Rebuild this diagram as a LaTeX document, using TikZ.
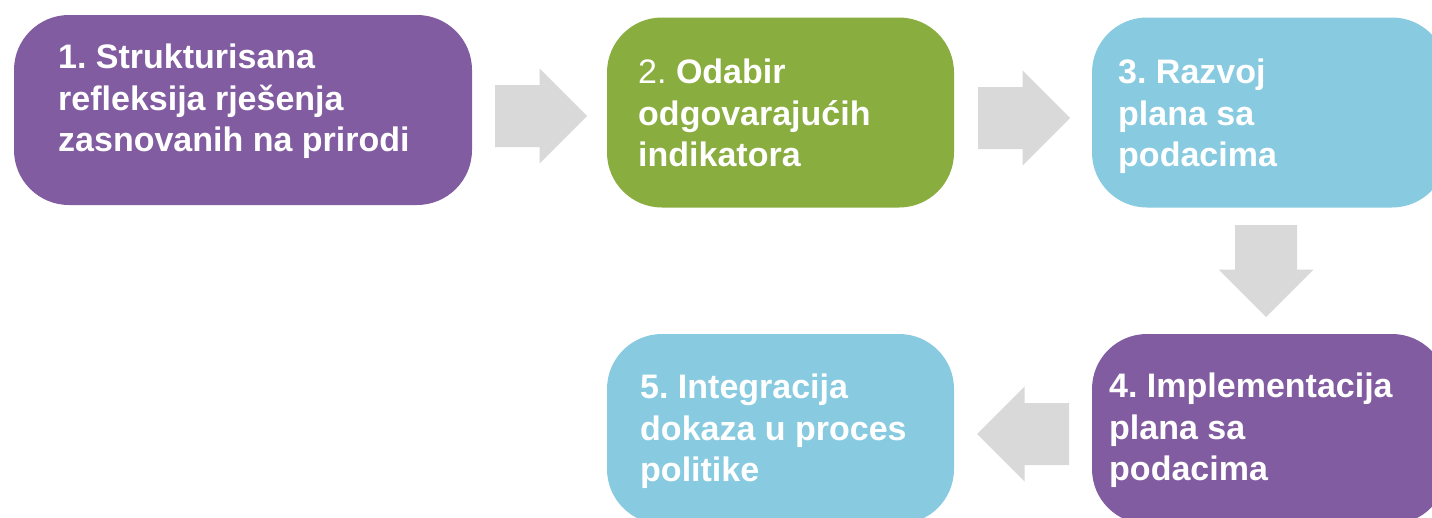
\documentclass[tikz,border=0pt]{standalone}
\usepackage{fontspec}
\setmainfont{Liberation Sans}
\definecolor{stepPurple}{HTML}{825CA0}
\definecolor{stepGreen}{HTML}{8AAD40}
\definecolor{stepBlue}{HTML}{88CBE1}
\definecolor{arrowGray}{HTML}{D9D9D9}
\frenchspacing
\tikzset{
    stepbox/.style ={
        shape=rectangle,
        rounded corners=55pt,
        draw=none,
        inner sep=0pt,
        minimum height=190pt
    },
    steptext/.style ={
        anchor=north west,
        inner sep=0pt,
        align=left,
        text=white,
        font=\fontsize{34}{41.5}\selectfont\bfseries
    },
    flowarrow/.pic ={
        \fill[arrowGray] (-46,-31) -- (-1.5,-31) -- (-1.5,-47.5) -- (46,0)
            -- (-1.5,47.5) -- (-1.5,31) -- (-46,31) -- cycle;
    }
}

\begin{document}
\begin{tikzpicture}[x=1pt,y=-1pt]
    \useasboundingbox (0,0) rectangle (1432,517);
    \fill[white] (0,0) rectangle (1432,517);
    % steps
    \node[stepbox, fill=stepPurple, minimum width=458pt] (s1) at (243,110) {};
    \node[stepbox, fill=stepGreen, minimum width=347pt] (s2) at (780.5,112.5) {};
    \node[stepbox, fill=stepBlue, minimum width=355pt] (s3) at (1269.5,112.5) {};
    \node[stepbox, fill=stepPurple, minimum width=355pt] (s4) at (1269.5,429) {};
    \node[stepbox, fill=stepBlue, minimum width=347pt] (s5) at (780.5,429) {};
    \node[steptext] (t1) at (58,44) {1. Strukturisana\\refleksija rješenja\\zasnovanih na prirodi};
    \node[steptext] (t2) at (638,59) {{\mdseries 2.} Odabir\\odgovarajućih\\indikatora};
    \node[steptext] (t3) at (1118,59) {3. Razvoj\\plana sa\\podacima};
    \node[steptext] (t4) at (1109,373) {4. Implementacija\\plana sa\\podacima};
    \node[steptext] (t5) at (640,374) {5. Integracija\\dokaza u proces\\politike};
    % arrows
    \pic (a12) at (541,116) {flowarrow};
    \pic (a23) at (1024,118) {flowarrow};
    \pic[rotate=-90] (a34) at (1266,271) {flowarrow};
    \pic[rotate=180] (a45) at (1023,434) {flowarrow};
\end{tikzpicture}
\end{document}
